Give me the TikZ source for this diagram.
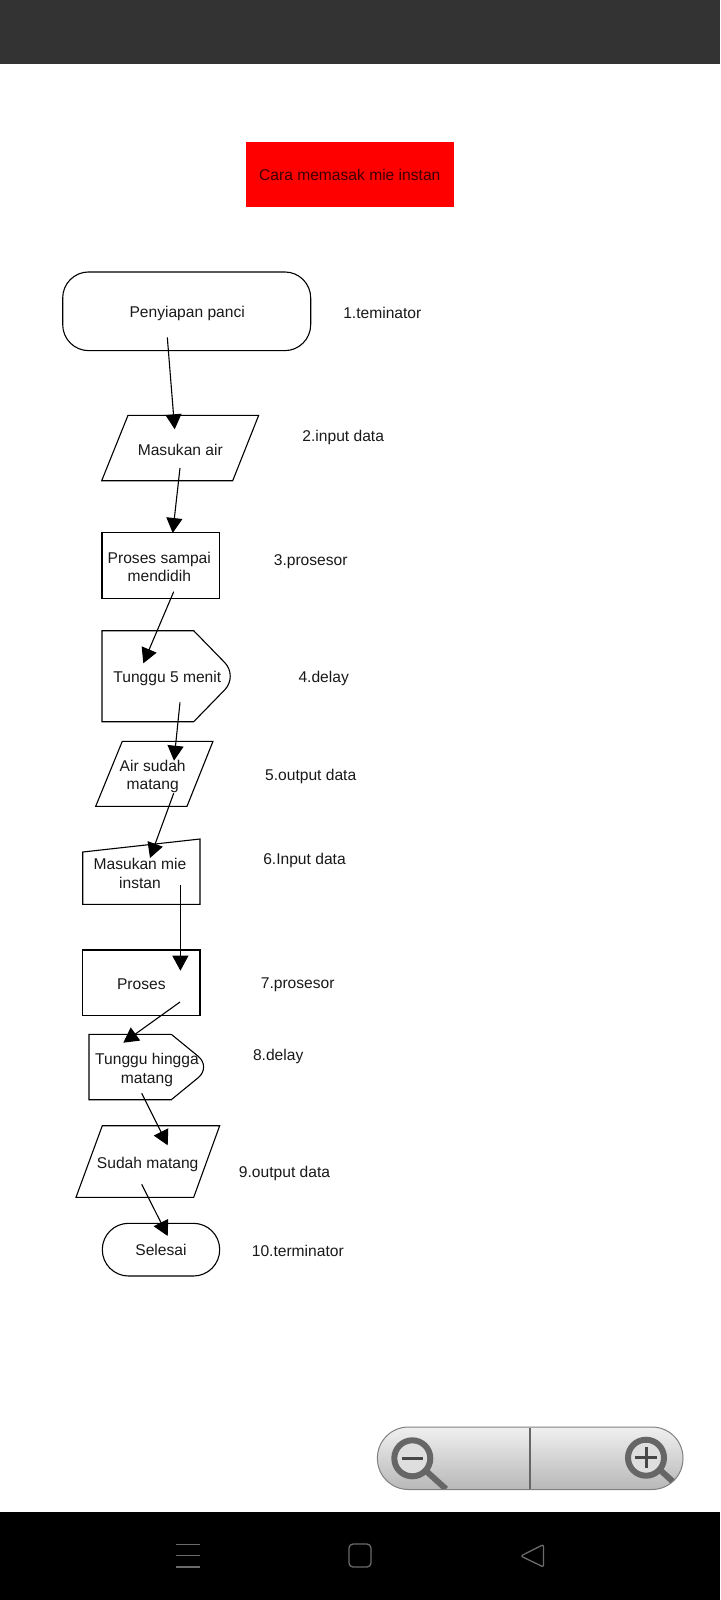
\documentclass[tikz,border=0pt]{standalone}
\usepackage{fontspec}
\setmainfont{Liberation Sans}
\usetikzlibrary{arrows.meta}
\definecolor{barAtas}{rgb}{0.2,0.2,0.2}
\definecolor{teksGelap}{rgb}{0.1,0.1,0.1}
\definecolor{ikonNav}{rgb}{0.42,0.42,0.42}
\definecolor{ikonZoom}{rgb}{0.40,0.40,0.40}
\tikzset{
  teks/.style={inner sep=0pt,align=center,text=teksGelap,font=\fontsize{15.6}{18.4}\selectfont},
  kotak/.style={draw=black,line width=1.1pt,inner sep=0pt,outer sep=0pt,align=center,text=teksGelap,font=\fontsize{15.6}{18.4}\selectfont},
  bentuk/.style={draw=black,line width=1.1pt},
  alur/.style={draw=black,line width=1.1pt,-{Triangle[length=15pt,width=16pt]},shorten >=0pt},
  nav/.style={draw=ikonNav,line width=1.3pt,line join=round}
}
\begin{document}
\begin{tikzpicture}[x=1pt,y=1pt,yscale=-1,xscale=1]
\useasboundingbox (0,0) rectangle (720,1600);

%Shape: screen bars
\fill [barAtas] (0,0) rectangle (720,64);
\fill [black] (0,1512) rectangle (720,1600);

% Title
\node [kotak,draw=none,fill=red,text={rgb,255:red,60;green,0;blue,0},minimum width=208.3pt,minimum height=65pt] (judul) at (349.8,174.8) {Cara memasak mie instan};

%Shape: Terminator
\node [kotak,rounded corners=26pt,minimum width=248pt,minimum height=78.7pt] (panci) at (186.7,311.3) {};
%Shape: Parallelogram
\draw [bentuk] (128,415.3) -- (258.7,415.3) -- (232.7,480.7) -- (101.7,480.7) -- cycle ;
%Shape: Rectangle
\node [kotak,minimum width=117.7pt,minimum height=65.6pt] (didih) at (160.85,565.5) {};
%Shape: Delay
\draw [bentuk] (102,630.7) -- (193.7,630.7) [rounded corners=19pt] -- (238,676.2) [sharp corners] -- (193.7,721.7) -- (102,721.7) -- cycle ;
%Shape: Parallelogram
\draw [bentuk] (122.3,741.3) -- (213,741.3) -- (187,806.3) -- (95.7,806.3) -- cycle ;
%Shape: Manual input
\draw [bentuk] (82.7,852) -- (200,839) -- (200,904.3) -- (82.7,904.3) -- cycle ;
%Shape: Rectangle
\node [kotak,minimum width=117.3pt,minimum height=65.3pt] (proses) at (141.35,982.65) {};
%Shape: Delay
\draw [bentuk] (89,1034.3) -- (171.3,1034.3) [rounded corners=17pt] -- (211.3,1067) [sharp corners] -- (171.3,1099.7) -- (89,1099.7) -- cycle ;
%Shape: Parallelogram
\draw [bentuk] (102.3,1125.7) -- (219.7,1125.7) -- (193.7,1197.3) -- (76,1197.3) -- cycle ;
%Shape: Terminator
\node [kotak,rounded corners=26.3pt,minimum width=117.4pt,minimum height=52.7pt] (selesai) at (161,1249.65) {Selesai};

% Text Node
\node [teks] (siap) at (187.2,313.6) {Penyiapan panci};
\node [teks] (air) at (180.3,449.8) {Masukan air};
\node [teks] (sampai) at (159.3,567) {Proses sampai\\mendidih};
\node [teks] (tunggu) at (167.3,678.3) {Tunggu 5 menit};
\node [teks] (sudah) at (152.7,776.6) {Air sudah\\matang};
\node [teks] (mie) at (140,873.3) {Masukan mie\\instan};
\node [teks] (olah) at (141.3,984.2) {Proses};
\node [teks] (hingga) at (147,1070) {Tunggu hingga\\matang};
\node [teks] (matang) at (147.7,1164) {Sudah matang};

% Text Node
\node [teks] (ket1) at (382.3,313.2) {1.teminator};
\node [teks] (ket2) at (343.2,437.5) {2.input data};
\node [teks] (ket3) at (310.7,561.7) {3.prosesor};
\node [teks] (ket4) at (323.7,678) {4.delay};
\node [teks] (ket5) at (310.7,776.3) {5.output data};
\node [teks] (ket6) at (304.5,860.3) {6.Input data};
\node [teks] (ket7) at (297.7,985) {7.prosesor};
\node [teks] (ket8) at (278.2,1056.3) {8.delay};
\node [teks] (ket9) at (284.5,1173.7) {9.output data};
\node [teks] (ket10) at (297.8,1250.7) {10.terminator};

% Arrow ends
\coordinate (a1) at (167.3,337.3);
\coordinate (b1) at (174.7,429.3);
\coordinate (a2) at (180,468);
\coordinate (b2) at (172.7,533);
\coordinate (a3) at (173.7,591.7);
\coordinate (b3) at (143.3,663.3);
\coordinate (a4) at (180,702.3);
\coordinate (b4) at (174,760.7);
\coordinate (a5) at (173.7,793.3);
\coordinate (b5) at (150,858);
\coordinate (a6) at (180.4,885);
\coordinate (b6) at (180.4,970.7);
\coordinate (a7) at (180,1002);
\coordinate (b7) at (123.3,1042.7);
\coordinate (a8) at (141.7,1093.3);
\coordinate (b8) at (167.7,1145.3);
\coordinate (a9) at (141.7,1184.3);
\coordinate (b9) at (167.7,1236);

%Straight Lines
\foreach \n in {1,...,9} {
  \draw [alur] (a\n) -- (b\n);
}

%Shape: zoom control
\draw [draw=black!50,line width=1pt,top color=black!6,bottom color=black!28,rounded corners=31pt] (377.4,1427) rectangle (683,1489.5);
\draw [draw=ikonZoom,line width=2pt] (530,1427.5) -- (530,1489);
\begin{scope}
\clip [rounded corners=31pt] (377.4,1427) rectangle (683,1489);
\draw [ikonZoom,line width=6pt] (425,1470) -- (446,1489);
\draw [ikonZoom,line width=6pt] (659,1469) -- (680,1488);
\draw [draw=ikonZoom,line width=6pt,fill=black!13] (412.3,1458.3) circle (18pt);
\draw [draw=ikonZoom,line width=6pt,fill=black!13] (646,1457.7) circle (18pt);
\end{scope}
\draw [black!72,line width=3pt] (401.7,1458.3) -- (423.3,1458.3);
\draw [black!72,line width=3pt] (635.2,1457.7) -- (656.8,1457.7) (646,1447) -- (646,1468.4);

%Shape: navigation icons
\draw [nav] (176,1544.3) -- (200,1544.3) (176,1555.7) -- (200,1555.7) (176,1567) -- (200,1567);
\draw [nav,rounded corners=4pt] (349,1544) rectangle (371,1567);
\draw [nav,rounded corners=2pt] (543.5,1544.5) -- (520.7,1556) -- (543.5,1567) -- cycle;

\end{tikzpicture}
\end{document}
